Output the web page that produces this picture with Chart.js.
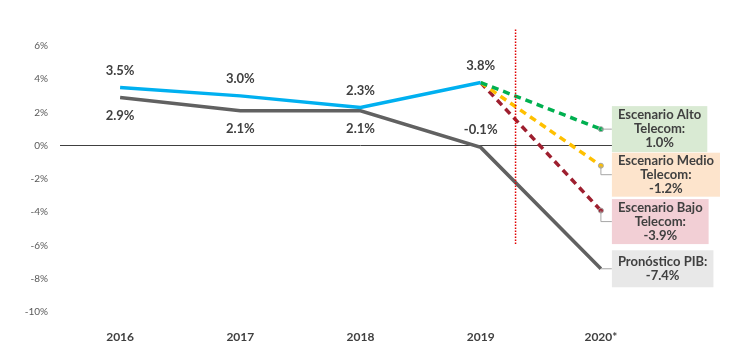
<!DOCTYPE html>
<html>
<head>
    <title>Telecom vs PIB</title>
    <script src="https://cdn.jsdelivr.net/npm/chart.js"></script>
    <style>
        html, body { margin: 0; padding: 0; background: #fff; }
        #wrap { width: 738px; height: 361px; }
    </style>
</head>
<body>
    <div id="wrap">
        <canvas id="lineChart" width="738" height="361"></canvas>
    </div>

    <script>
        // datos
        const years = ['2016', '2017', '2018', '2019', '2020*'];
        const telecom = [3.5, 3.0, 2.3, 3.8, null];
        const pib = [2.9, 2.1, 2.1, -0.1, -7.4];
        const altoTelecom = [null, null, null, 3.8, 1.0];
        const medioTelecom = [null, null, null, 3.8, -1.2];
        const bajoTelecom = [null, null, null, 3.8, -3.9];
        const yTicks = [6, 4, 2, 0, -2, -4, -6, -8, -10];

        const FONT = 'Lato, "DejaVu Sans", sans-serif';
        const TEXT = '#404040';

        // cajas de la derecha (texto + estilo)
        const callouts = [
            { ds: 2, lines: ['Escenario Alto', 'Telecom:', '1.0%'], bg: '#d9ead3', dy: 0, h: 46 },
            { ds: 3, lines: ['Escenario Medio', 'Telecom:', '-1.2%'], bg: '#fde4cc', dy: 9, h: 44 },
            { ds: 4, lines: ['Escenario Bajo', 'Telecom:', '-3.9%'], bg: '#f2cfd5', dy: 11, h: 45 },
            { ds: 1, lines: ['Pronóstico PIB:', '-7.4%'], bg: '#e8e8e8', dy: 0, h: 37 }
        ];

        const labelsPlugin = {
            id: 'labelsPlugin',
            afterDatasetsDraw(chart) {
                const ctx = chart.ctx;
                const x = chart.scales.x, y = chart.scales.y;
                ctx.save();

                // linea vertical punteada entre 2019 y 2020
                const step = x.getPixelForValue(4) - x.getPixelForValue(3);
                const vx = x.getPixelForValue(3) + step * 0.29;
                ctx.strokeStyle = '#e00000';
                ctx.lineWidth = 1.5;
                ctx.setLineDash([1.5, 1.5]);
                ctx.beginPath();
                ctx.moveTo(vx, y.getPixelForValue(7));
                ctx.lineTo(vx, y.getPixelForValue(-6));
                ctx.stroke();
                ctx.setLineDash([]);

                // etiquetas de valores
                ctx.font = 'bold 13px ' + FONT;
                ctx.fillStyle = TEXT;
                ctx.textAlign = 'center';
                ctx.textBaseline = 'middle';
                chart.getDatasetMeta(0).data.forEach((p, i) => {
                    if (telecom[i] === null) return;
                    ctx.fillText(telecom[i].toFixed(1) + '%', p.x, p.y - 17);
                });
                chart.getDatasetMeta(1).data.forEach((p, i) => {
                    if (i > 3) return;
                    const above = pib[i] < 0;
                    ctx.fillText(pib[i].toFixed(1) + '%', p.x, p.y + (above ? -18 : 18));
                });

                // cajas
                callouts.forEach(c => {
                    const p = chart.getDatasetMeta(c.ds).data[4];
                    let w = 0;
                    c.lines.forEach(l => { w = Math.max(w, ctx.measureText(l).width); });
                    w += 12;
                    const bx = p.x + 11;
                    const cy = p.y + c.dy;
                    const by = cy - c.h / 2;
                    // linea guia
                    ctx.strokeStyle = '#a6a6a6';
                    ctx.lineWidth = 1;
                    ctx.beginPath();
                    ctx.moveTo(p.x, p.y);
                    ctx.lineTo(p.x, cy);
                    ctx.lineTo(bx, cy);
                    ctx.stroke();
                    ctx.fillStyle = c.bg;
                    ctx.fillRect(bx, by, w, c.h);
                    ctx.fillStyle = TEXT;
                    const lh = 14;
                    const start = cy - (c.lines.length - 1) * lh / 2;
                    c.lines.forEach((l, k) => ctx.fillText(l, bx + w / 2, start + k * lh));
                });
                ctx.restore();
            }
        };

        function dashed(label, data, color) {
            return {
                label: label,
                data: data,
                borderColor: color,
                backgroundColor: color,
                borderWidth: 3.5,
                borderDash: [7, 5],
                pointRadius: [0, 0, 0, 0, 2.5],
                pointBorderWidth: 1,
                pointBorderColor: '#a6a6a6'
            };
        }

        const ctx = document.getElementById('lineChart').getContext('2d');
        const myChart = new Chart(ctx, {
            type: 'line',
            data: {
                labels: years,
                datasets: [
                    { label: 'Telecom', data: telecom, borderColor: '#00b0f0', backgroundColor: '#00b0f0', borderWidth: 3.5, pointRadius: 0 },
                    { label: 'PIB', data: pib, borderColor: '#616161', backgroundColor: '#616161', borderWidth: 3.5, pointRadius: 0 },
                    dashed('Escenario Alto', altoTelecom, '#00b050'),
                    dashed('Escenario Medio', medioTelecom, '#ffc000'),
                    dashed('Escenario Bajo', bajoTelecom, '#9e1f2f')
                ]
            },
            options: {
                responsive: false,
                animation: false,
                layout: { padding: { top: 46, right: 77, bottom: 0, left: 0 } },
                plugins: {
                    legend: { display: false },
                    tooltip: { enabled: false }
                },
                scales: {
                    x: {
                        offset: true,
                        grid: { display: false },
                        border: { display: false },
                        ticks: { color: TEXT, font: { family: FONT, size: 12, weight: 'bold' }, padding: 10 },
                        afterFit(s) { s.height = 49; }
                    },
                    y: {
                        min: -10,
                        max: 6,
                        afterBuildTicks(s) { s.ticks = yTicks.map(v => ({ value: v })); },
                        afterFit(s) { s.width = 60; },
                        border: { display: false },
                        grid: {
                            drawTicks: false,
                            color: c => c.tick && c.tick.value === 0 ? '#404040' : 'rgba(0,0,0,0)',
                            lineWidth: 1
                        },
                        ticks: {
                            color: '#595959',
                            font: { family: FONT, size: 10 },
                            padding: 12,
                            callback: v => v + '%'
                        }
                    }
                }
            },
            plugins: [labelsPlugin]
        });
    </script>
</body>
</html>
